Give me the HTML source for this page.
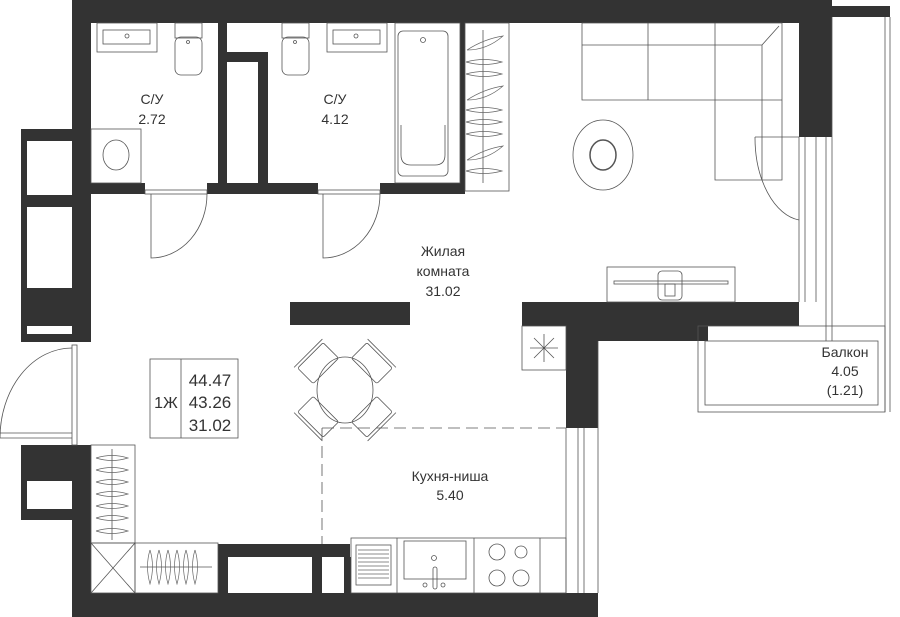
<!DOCTYPE html>
<html><head><meta charset="utf-8"><style>
html,body{margin:0;padding:0;background:#fff;}
svg{display:block;font-family:"Liberation Sans",sans-serif;}
text{fill:#333;font-size:14px;text-anchor:middle;}
</style></head><body>
<svg width="900" height="617" viewBox="0 0 900 617" xmlns="http://www.w3.org/2000/svg">
<g fill="#333" stroke="none">
<rect x="72" y="0" width="760" height="23"/>
<rect x="832" y="6" width="58" height="11"/>
<rect x="799" y="23" width="33" height="114"/>
<rect x="72" y="0" width="19" height="342"/>
<rect x="21" y="129" width="51" height="213"/>
<rect x="21" y="445" width="70" height="75"/>
<rect x="72" y="445" width="19" height="172"/>
<rect x="72" y="593" width="526" height="24"/>
<rect x="91" y="183" width="54" height="11"/>
<rect x="207" y="183" width="111" height="11"/>
<rect x="380" y="183" width="85" height="11"/>
<rect x="218" y="23" width="9" height="160"/>
<rect x="227" y="52" width="41" height="10"/>
<rect x="258" y="52" width="10" height="131"/>
<rect x="460" y="23" width="5" height="170"/>
<rect x="290" y="302" width="120" height="23"/>
<rect x="522" y="302" width="277" height="24"/>
<rect x="566" y="326" width="142" height="15"/>
<rect x="566" y="326" width="32" height="102"/>
<rect x="218" y="544" width="132" height="13"/>
<rect x="218" y="557" width="10" height="36"/>
<rect x="312" y="557" width="10" height="36"/>
<rect x="344" y="557" width="7" height="36"/>
</g>
<g fill="#fff">
<rect x="27" y="141" width="45" height="54"/>
<rect x="27" y="207" width="45" height="81"/>
<rect x="27" y="326" width="45" height="8"/>
<rect x="27" y="481" width="45" height="28"/>
</g>
<g fill="none" stroke="#555" stroke-width="0.8">
<path d="M72 348 A72 90 0 0 0 0 438"/>
<rect x="72" y="345" width="5" height="100"/>
<line x1="0" y1="433" x2="72" y2="433"/><line x1="0" y1="438" x2="72" y2="438"/>
<rect x="145" y="190" width="62" height="4"/>
<path d="M151 194 V258 A56 64 0 0 0 207 194"/>
<rect x="318" y="190" width="62" height="4"/>
<path d="M323 194 V258 A57 64 0 0 0 380 194"/>
<rect x="91" y="129" width="50" height="54"/>
<ellipse cx="116" cy="155" rx="13" ry="15"/>
<rect x="97" y="23" width="60" height="29"/><rect x="103" y="30" width="47" height="14"/>
<circle cx="127" cy="36" r="2"/>
<rect x="327" y="23" width="60" height="29"/><rect x="333" y="30" width="47" height="14"/>
<circle cx="356" cy="36" r="2"/>
<rect x="175" y="23" width="27" height="15"/><rect x="175" y="37" width="27" height="38" rx="6"/><circle cx="188" cy="42" r="1.5"/>
<rect x="282" y="23" width="27" height="15"/><rect x="282" y="37" width="27" height="38" rx="6"/><circle cx="295" cy="42" r="1.5"/>
<rect x="395" y="23" width="65" height="160"/>
<rect x="398" y="31" width="50" height="145" rx="5"/>
<path d="M401 125 V155 Q401 165 411 165 H435 Q445 165 445 155 V125"/>
<circle cx="423" cy="40" r="2.5"/>
<rect x="465" y="23" width="44" height="168"/>
<line x1="483" y1="30" x2="483" y2="183"/>
<path d="M582 23 V100 H715 V180 H782 V23 Z"/>
<line x1="582" y1="45" x2="762" y2="45"/>
<line x1="648" y1="23" x2="648" y2="100"/><line x1="715" y1="23" x2="715" y2="100"/>
<path d="M762 45 V180 M715 100 H782 M762 45 L779 26"/>
<ellipse cx="603" cy="155" rx="30" ry="35"/>
<ellipse cx="603" cy="155" rx="13" ry="15" stroke-width="1.5"/>
<line x1="755" y1="137" x2="799" y2="137"/>
<path d="M755 137 A50 83 0 0 0 799 220"/>
<line x1="799" y1="137" x2="799" y2="302"/><line x1="805" y1="137" x2="805" y2="302"/><line x1="816" y1="137" x2="816" y2="302"/>
<rect x="607" y="267" width="128" height="35"/>
<rect x="614" y="281" width="114" height="3"/>
<rect x="658" y="271" width="24" height="29" rx="4"/>
<rect x="665" y="284" width="10" height="12"/>
<rect x="698" y="326" width="187" height="86"/>
<rect x="705" y="341" width="173" height="64"/>
<line x1="885" y1="17" x2="885" y2="412"/><line x1="890" y1="17" x2="890" y2="412"/>
<line x1="832" y1="17" x2="832" y2="341"/><line x1="826" y1="137" x2="826" y2="341"/>
<rect x="522" y="326" width="44" height="44"/>
<path d="M534 338 L554 358 M554 338 L534 358 M544 334 V362 M530 348 H558"/>
<rect x="150" y="359" width="88" height="79"/>
<line x1="181" y1="359" x2="181" y2="438"/>
<ellipse cx="345" cy="390" rx="28" ry="33"/>
<g transform="rotate(45 345 390)">
<rect x="296" y="372" width="22" height="36" rx="2"/><line x1="293" y1="370" x2="293" y2="410"/>
<rect x="372" y="372" width="22" height="36" rx="2"/><line x1="397" y1="370" x2="397" y2="410"/>
<rect x="327" y="341" width="36" height="22" rx="2"/><line x1="325" y1="338" x2="365" y2="338"/>
<rect x="327" y="417" width="36" height="22" rx="2"/><line x1="325" y1="442" x2="365" y2="442"/>
</g>
<path d="M322 428 H566 M322 428 V544" stroke-dasharray="12 6"/>
<line x1="566" y1="428" x2="566" y2="593"/><line x1="578" y1="428" x2="578" y2="593"/><line x1="584" y1="428" x2="584" y2="593"/><line x1="598" y1="341" x2="598" y2="593"/>
<rect x="351" y="538" width="215" height="55"/>
<line x1="397" y1="538" x2="397" y2="593"/><line x1="474" y1="538" x2="474" y2="593"/><line x1="540" y1="538" x2="540" y2="593"/>
<rect x="356" y="545" width="35" height="40"/>
<rect x="404" y="541" width="62" height="38"/>
<rect x="433" y="567" width="4" height="22" rx="2"/><circle cx="434" cy="558" r="2.5"/><circle cx="425" cy="585" r="2"/><circle cx="443" cy="585" r="2"/>
<circle cx="497" cy="552" r="8"/><circle cx="521" cy="552" r="6"/><circle cx="497" cy="578" r="8"/><circle cx="521" cy="578" r="8"/>
<rect x="91" y="445" width="44" height="98"/>
<line x1="112" y1="449" x2="112" y2="540"/>
<rect x="91" y="543" width="44" height="50"/>
<path d="M91 543 L135 593 M135 543 L91 593"/>
<rect x="135" y="543" width="83" height="50"/>
<line x1="140" y1="567" x2="212" y2="567"/>
</g>
<g stroke="#666" stroke-width="0.7" fill="none">
<path d="M466 62 q18-5 36 0 q-18 5 -36 0 M466 74 q18-5 36 0 q-18 5 -36 0 M466 110 q18-5 36 0 q-18 5 -36 0 M466 122 q18-5 36 0 q-18 5 -36 0 M466 134 q18-5 36 0 q-18 5 -36 0 M466 171 q18-5 36 0 q-18 5 -36 0"/>
<path d="M467 50 q17-11 36-14 q-16 14 -36 14 M467 100 q17-11 36-14 q-16 14 -36 14 M467 160 q17-11 36-14 q-16 14 -36 14"/>
<path d="M96 458 q16-5 32 0 q-16 5 -32 0 M96 470 q16-5 32 0 q-16 5 -32 0 M96 482 q16-5 32 0 q-16 5 -32 0 M96 494 q16-5 32 0 q-16 5 -32 0 M96 506 q16-5 32 0 q-16 5 -32 0 M96 518 q16-5 32 0 q-16 5 -32 0 M96 531 q16-5 32 0 q-16 5 -32 0"/>
<path d="M150 550 q-5 16 0 34 q5-18 0-34 M159 550 q-5 16 0 34 q5-18 0-34 M168 550 q-5 16 0 34 q5-18 0-34 M177 550 q-5 16 0 34 q5-18 0-34 M186 550 q-5 16 0 34 q5-18 0-34 M195 550 q-5 16 0 34 q5-18 0-34"/>
<path d="M358 550 H389 M358 554 H389 M358 558 H389 M358 562 H389 M358 566 H389 M358 570 H389 M358 574 H389 M358 578 H389"/>
</g>
<text x="152" y="104">С/У</text><text x="152" y="124">2.72</text>
<text x="335" y="104">С/У</text><text x="335" y="124">4.12</text>
<text x="443" y="256">Жилая</text><text x="443" y="276">комната</text><text x="443" y="296">31.02</text>
<text x="450" y="481">Кухня-ниша</text><text x="450" y="500">5.40</text>
<text x="845" y="357">Балкон</text><text x="845" y="376">4.05</text><text x="845" y="395">(1.21)</text>
<text x="166" y="408" style="font-size:16px">1Ж</text>
<text x="210" y="386" style="font-size:17px">44.47</text>
<text x="210" y="408" style="font-size:17px">43.26</text>
<text x="210" y="431" style="font-size:17px">31.02</text>
</svg>
</body></html>
